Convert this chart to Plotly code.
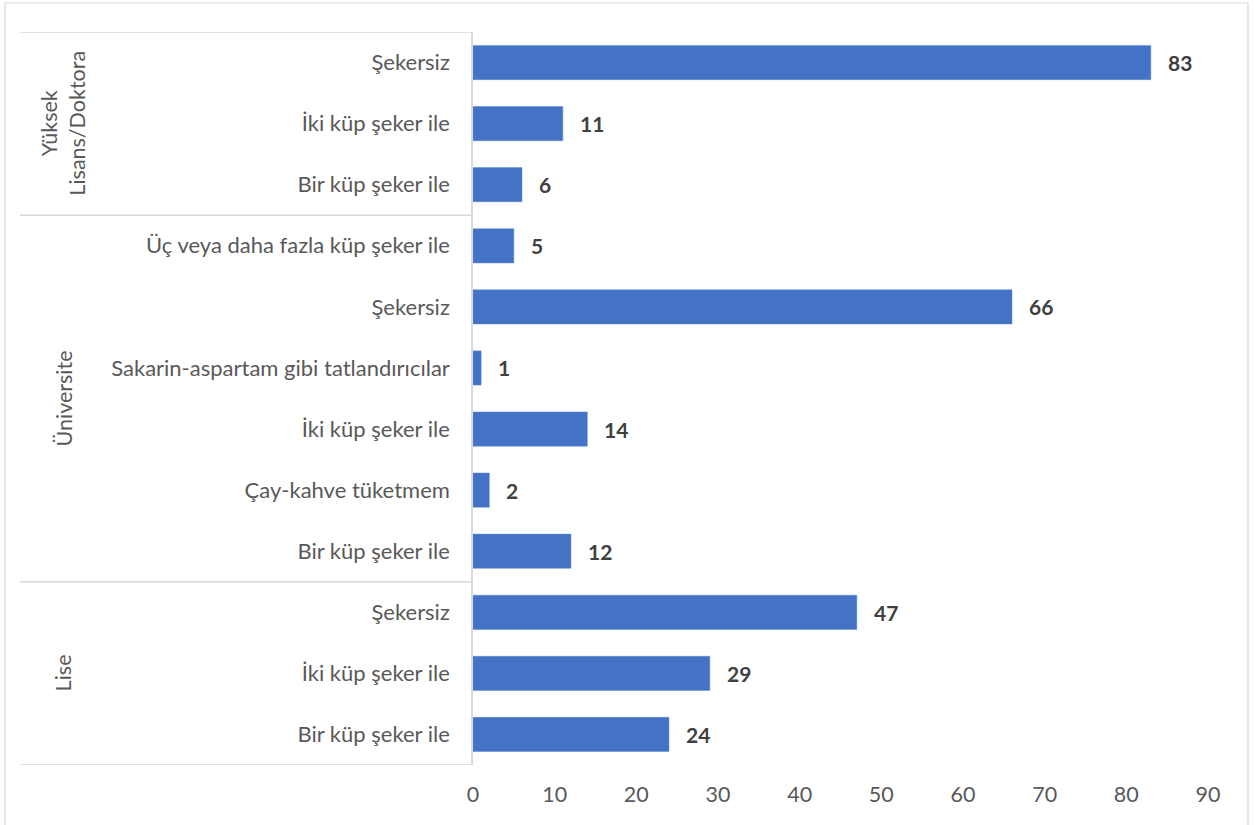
import plotly.graph_objects as go

# Data (bottom to top)
groups = ["Lise", "Üniversite", "Yüksek<br>Lisans/Doktora"]
lise_cats = ["Bir küp şeker ile", "İki küp şeker ile", "Şekersiz"]
lise_vals = [24, 29, 47]
uni_cats = ["Bir küp şeker ile", "Çay-kahve tüketmem", "İki küp şeker ile",
            "Sakarin-aspartam gibi tatlandırıcılar", "Şekersiz",
            "Üç veya daha fazla küp şeker ile"]
uni_vals = [12, 2, 14, 1, 66, 5]
yl_cats = ["Bir küp şeker ile", "İki küp şeker ile", "Şekersiz"]
yl_vals = [6, 11, 83]
x_ticks = [0, 10, 20, 30, 40, 50, 60, 70, 80, 90]

cats = lise_cats + uni_cats + yl_cats
vals = lise_vals + uni_vals + yl_vals
pos = list(range(len(cats)))
group_sizes = [len(lise_cats), len(uni_cats), len(yl_cats)]

FONT = "Lato"
bar_color = "#4472C4"

fig = go.Figure()
fig.add_trace(go.Bar(
    x=vals, y=pos, orientation="h",
    marker=dict(color=bar_color, line=dict(color="#5B8BD9", width=0.5)),
    width=0.56, hoverinfo="x+y",
))

# data labels
for v, p in zip(vals, pos):
    fig.add_annotation(x=v, y=p, text=f"<b>{v}</b>", showarrow=False,
                       xanchor="left", yanchor="middle", xshift=15,
                       font=dict(family=FONT, size=21, color="#404040"))

# group separators and labels
line_col = "#D9D9D9"
x_left = (20 - 473) / 735
start = -0.5
bounds = [start]
for n in group_sizes:
    start += n
    bounds.append(start)
for b in bounds:
    fig.add_shape(type="line", xref="paper", yref="y", x0=x_left, x1=0,
                  y0=b, y1=b, line=dict(color=line_col, width=1.5))
for g, lo, hi in zip(groups, bounds[:-1], bounds[1:]):
    fig.add_annotation(xref="paper", yref="y", x=(63 - 473) / 735,
                       y=(lo + hi) / 2, text=g, showarrow=False, textangle=-90,
                       font=dict(family=FONT, size=21.5, color="#595959"),
                       xanchor="center", yanchor="middle")

# outer border
fig.add_shape(type="rect", xref="paper", yref="paper",
              x0=(5 - 473) / 735, x1=(1248 - 473) / 735,
              y0=(765 - 830) / 733, y1=(765 - 3) / 733,
              line=dict(color=line_col, width=1.2))

fig.update_layout(
    width=1254, height=825,
    margin=dict(l=473, r=46, t=32, b=60),
    paper_bgcolor="white", plot_bgcolor="white",
    showlegend=False,
    font=dict(family=FONT, color="#595959"),
    bargap=0.44,
)
fig.update_xaxes(range=[0, 90], tickvals=x_ticks, showgrid=False,
                 zeroline=False, showline=False,
                 tickfont=dict(family=FONT, size=21.5, color="#595959"),
                 ticks="outside", ticklen=10, tickcolor="rgba(0,0,0,0)")
fig.update_yaxes(range=[-0.5, len(cats) - 0.5], tickvals=pos, ticktext=cats,
                 showgrid=False, zeroline=False, showline=True,
                 linecolor=line_col, linewidth=1.5,
                 tickfont=dict(family=FONT, size=22, color="#595959"),
                 ticks="outside", ticklen=17, tickcolor="rgba(0,0,0,0)")

fig.write_html("out.html",
               config={"displayModeBar": False},
               post_script="document.body.style.margin='0';"
                           "document.body.style.overflow='hidden';")
